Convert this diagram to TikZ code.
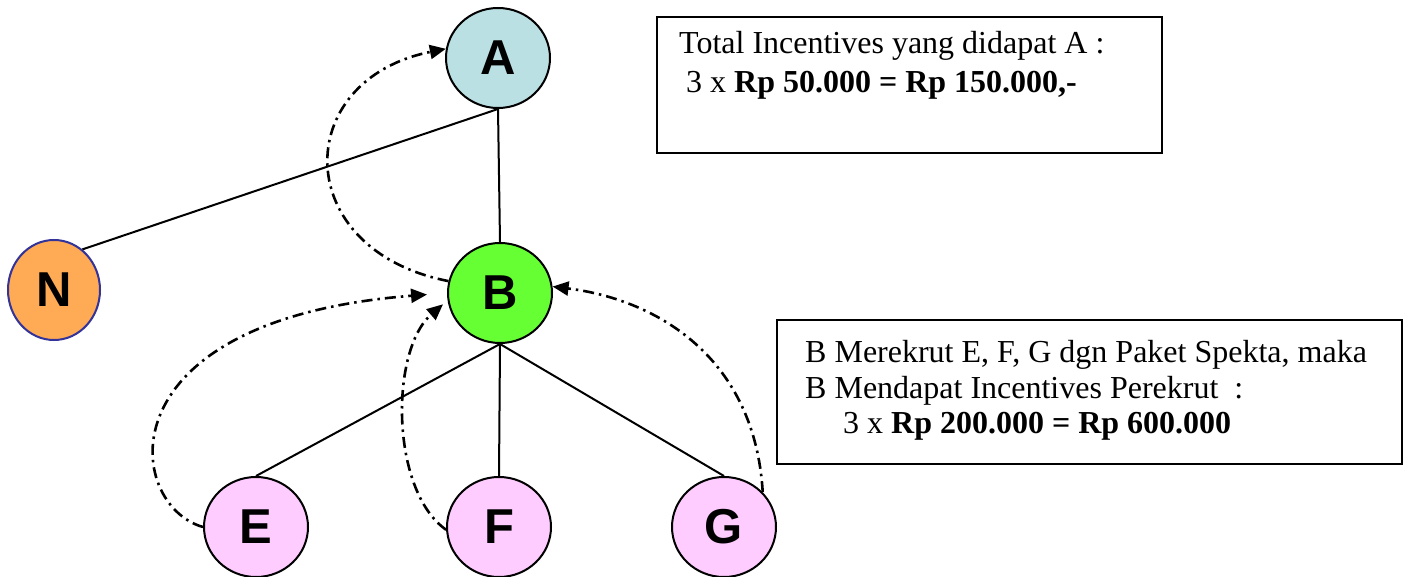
\documentclass[tikz,border=0pt]{standalone}
\usepackage{fontspec}
\setmainfont{Liberation Serif}
\newfontfamily\arialfont{Liberation Sans}
\usetikzlibrary{arrows.meta,shapes.geometric}
\definecolor{memberA}{RGB}{187,224,227}
\definecolor{memberB}{RGB}{102,255,51}
\definecolor{memberN}{RGB}{255,170,85}
\definecolor{borderN}{RGB}{51,51,153}
\definecolor{memberNew}{RGB}{255,204,255}

\begin{document}
\begin{tikzpicture}[x=1pt, y=-1pt, >={Triangle[length=16pt,width=14pt]},
    member/.style={draw, ellipse, line width=2pt, minimum width=104pt, minimum height=100pt, inner sep=0pt,
        font=\arialfont\bfseries\fontsize{49}{50}\selectfont},
    tree/.style={line width=2pt},
    bonus/.style={->, line width=2.6pt, dash pattern=on 11pt off 5pt on 2.5pt off 5pt},
    infobox/.style={draw, line width=2pt, inner sep=0pt},
    infotext/.style={anchor=base west, inner sep=0pt, font=\fontsize{32}{36}\selectfont}]
    \useasboundingbox (0,0) rectangle (1408,577);

    \node[member, fill=memberA] (A) at (498,58) {A};
    \node[member, fill=memberB] (B) at (500,293) {B};
    \node[member, fill=memberN, draw=borderN, minimum width=92pt] (N) at (54,290) {N};
    \node[member, fill=memberNew] (E) at (256,527) {E};
    \node[member, fill=memberNew] (F) at (499,527) {F};
    \node[member, fill=memberNew] (G) at (724,527) {G};

    \draw[tree] (A.south) -- (B.north);
    \draw[tree] (A.south) -- (N.55);
    \draw[tree] (B.south) -- (E.north);
    \draw[tree] (B.south) -- (F.north);
    \draw[tree] (B.south) -- (G.north);

    \draw[bonus] (B.167) .. controls (290,250) and (290,80) .. (A.170);
    \draw[bonus, shorten >=20pt] (E.180) .. controls (125,505) and (100,320) .. (B.180);
    \draw[bonus, shorten >=6pt] (F.183) .. controls (390,490) and (390,350) .. (B.188);
    \draw[bonus] (G.42) .. controls (755,360) and (660,300) .. (B.7);

    \node[infobox, minimum width=505pt, minimum height=136pt] (boxA) at (909.5,85) {};
    \node[infotext] (totalA) at (679,54) {Total Incentives yang didapat A :};
    \node[infotext] (sumA) at (686,93) {3 x \textbf{Rp 50.000 = Rp 150.000,-}};

    \node[infobox, minimum width=625pt, minimum height=144pt] (boxB) at (1089.5,392) {};
    \node[infotext] (recruitB) at (805,362) {B Merekrut E, F, G dgn Paket Spekta, maka};
    \node[infotext] (totalB) at (805,398) {B Mendapat Incentives Perekrut~ :};
    \node[infotext] (sumB) at (843,433) {3 x \textbf{Rp 200.000 = Rp 600.000}};
\end{tikzpicture}
\end{document}
